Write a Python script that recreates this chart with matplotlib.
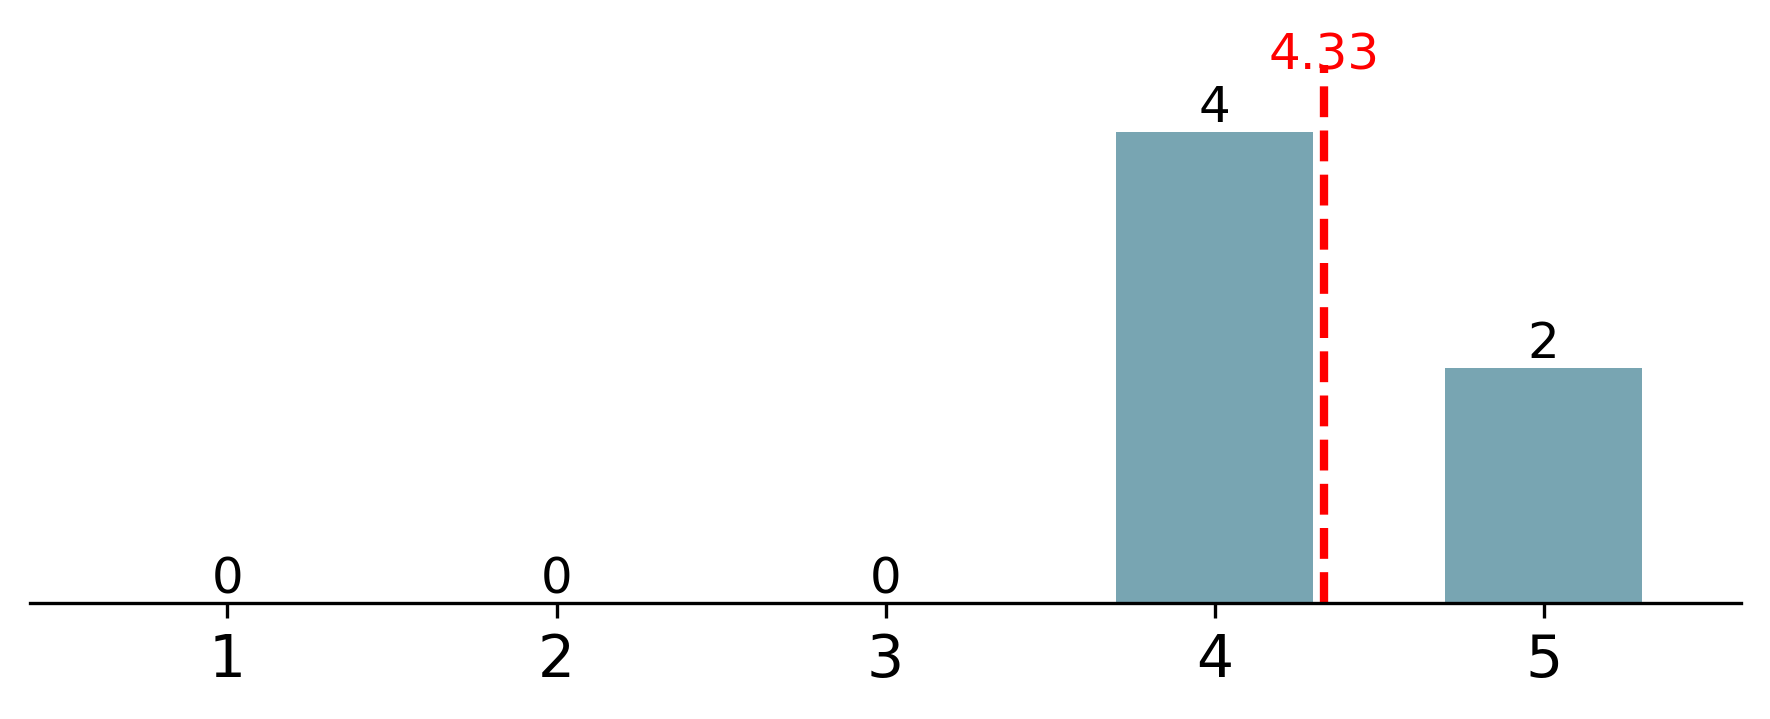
import numpy as np
import matplotlib
matplotlib.use("Agg")
import matplotlib.pyplot as plt

# rating counts
ratings = [1, 2, 3, 4, 5]
counts = [0, 0, 0, 4, 2]

BAR_COLOR = "#78a5b2"


def main():
    fig, ax = plt.subplots(figsize=(1770 / 300, 719 / 300), dpi=300)
    fig.subplots_adjust(left=0.017, right=0.9836, bottom=0.1613, top=0.947)

    bars = ax.bar(ratings, counts, width=0.6, color=BAR_COLOR)
    ax.bar_label(bars, fontsize=12)

    mean = np.dot(ratings, counts) / np.sum(counts)
    ymax = max(counts) * 1.2
    ax.set_ylim(0, ymax)
    ax.set_xlim(0.4, 5.6)

    ax.axvline(mean, ymin=0, ymax=0.953, color="red", linestyle="--", linewidth=2)
    ax.text(mean, 4.45, "{0:.2f}".format(mean), color="red", fontsize=12,
            ha="center", va="bottom")

    ax.set_xticks(ratings)
    ax.tick_params(axis="x", labelsize=14)
    ax.set_yticks([])
    for side in ["top", "right", "left"]:
        ax.spines[side].set_visible(False)

    fig.savefig("out.png", dpi=300)


if __name__ == "__main__":
    main()
